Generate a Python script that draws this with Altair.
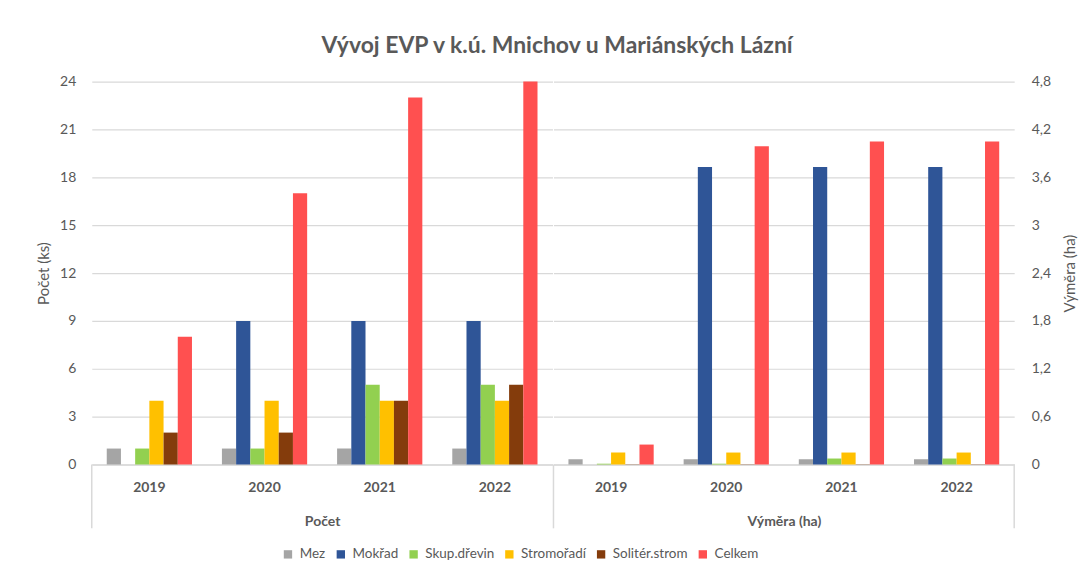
import altair as alt
import pandas as pd

years = ["2019", "2020", "2021", "2022"]
series = ["Mez", "Mokřad", "Skup.dřevin", "Stromořadí", "Solitér.strom", "Celkem"]
colors = ["#A5A5A5", "#2F5597", "#92D050", "#FFC000", "#843C0C", "#FF5050"]

# Počet (ks) per year, order as in series
count_2019 = [1, 0, 1, 4, 2, 8]
count_2020 = [1, 9, 1, 4, 2, 17]
count_2021 = [1, 9, 5, 4, 4, 23]
count_2022 = [1, 9, 5, 4, 5, 24]

# Výměra (ha) per year
area_2019 = [0.066, 0.0, 0.01, 0.15, 0.003, 0.25]
area_2020 = [0.066, 3.73, 0.01, 0.15, 0.003, 3.99]
area_2021 = [0.066, 3.73, 0.075, 0.15, 0.003, 4.05]
area_2022 = [0.066, 3.73, 0.075, 0.15, 0.003, 4.05]

count_ticks = [0, 3, 6, 9, 12, 15, 18, 21, 24]
area_ticks = [0, 0.6, 1.2, 1.8, 2.4, 3.0, 3.6, 4.2, 4.8]

def build(rows_by_year):
    recs = []
    for y, vals in zip(years, rows_by_year):
        for s, v in zip(series, vals):
            recs.append({"year": y, "series": s, "value": v})
    return pd.DataFrame(recs)

df_count = build([count_2019, count_2020, count_2021, count_2022])
df_area = build([area_2019, area_2020, area_2021, area_2022])

TXT = "#595959"
GRID = "#D9D9D9"
W, H = 462, 384

color_enc = alt.Color(
    "series:N", sort=series,
    scale=alt.Scale(domain=series, range=colors),
    legend=alt.Legend(title=None, orient="none", legendX=190, legendY=467,
                      direction="horizontal",
                      symbolType="square", symbolSize=70, symbolStrokeWidth=0,
                      labelFontSize=13.5, labelColor=TXT, columnPadding=8,
                      labelOffset=5),
)

def xenc(title):
    return alt.X("year:N", sort=years,
                 scale=alt.Scale(paddingInner=0.26, paddingOuter=0.13),
                 axis=alt.Axis(title=title, labelAngle=0, labelFontWeight="bold",
                               labelFontSize=14, labelColor=TXT, labelPadding=16,
                               ticks=False, domainColor=GRID, domainWidth=1.5,
                               titleFontSize=14, titleFontWeight="bold",
                               titleColor=TXT, titlePadding=20))

xoff = alt.XOffset("series:N", sort=series, scale=alt.Scale(paddingInner=0, paddingOuter=0))

left_bars = alt.Chart(df_count).mark_bar().encode(
    x=xenc("Počet"),
    xOffset=xoff,
    y=alt.Y("value:Q", scale=alt.Scale(domain=[0, 24], nice=False),
            axis=alt.Axis(values=count_ticks, title="Počet (ks)", grid=True,
                          gridColor=GRID, gridWidth=1.2, domain=False, ticks=False,
                          labelFontSize=14, labelColor=TXT, labelPadding=16,
                          titleFontSize=15, titleFontWeight="normal",
                          titleColor=TXT, titlePadding=8)),
    color=color_enc,
)

sep = pd.DataFrame({"k": [0]})
left_sep = alt.Chart(sep).mark_rule(color=GRID, strokeWidth=1.5).encode(
    x=alt.value(0), y=alt.value(H), y2=alt.value(H + 64))

right_bars = alt.Chart(df_area).mark_bar().encode(
    x=xenc("Výměra (ha)"),
    xOffset=xoff,
    y=alt.Y("value:Q", scale=alt.Scale(domain=[0, 4.8], nice=False),
            axis=alt.Axis(values=area_ticks, orient="right", title="Výměra (ha)",
                          grid=True, gridColor=GRID, gridWidth=1.2, domain=False,
                          ticks=False, labelFontSize=14, labelColor=TXT,
                          labelPadding=17,
                          labelExpr="replace(toString(round(datum.value*10)/10), '.', ',')",
                          titleFontSize=15, titleFontWeight="normal",
                          titleColor=TXT, titleAngle=270, titleBaseline="top",
                          titlePadding=12)),
    color=color_enc,
)

right_sep = alt.Chart(sep).mark_rule(color=GRID, strokeWidth=1.5).encode(
    x=alt.value(0), y=alt.value(H), y2=alt.value(H + 64))
right_sep2 = alt.Chart(sep).mark_rule(color=GRID, strokeWidth=1.5).encode(
    x=alt.value(W), y=alt.value(H), y2=alt.value(H + 64))

left = alt.layer(left_bars, left_sep).properties(width=W, height=H)
right = alt.layer(right_bars, right_sep, right_sep2).properties(width=W, height=H)

chart = alt.hconcat(left, right, spacing=0).properties(
    title=alt.TitleParams("Vývoj EVP v k.ú. Mnichov u Mariánských Lázní",
                          fontSize=23, fontWeight="bold", color=TXT,
                          anchor="middle", offset=17),
    padding={"left": 28, "top": 26, "right": 5, "bottom": 5},
).configure(font="Lato").configure_view(stroke=None).configure_concat(spacing=0)

chart.save("out.html", embed_options={"renderer": "svg", "actions": False})
